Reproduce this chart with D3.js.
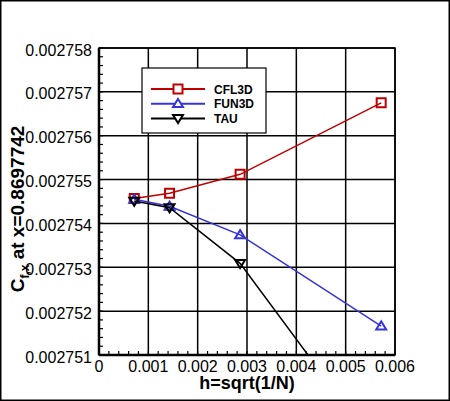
<!DOCTYPE html>
<html>
<head>
<meta charset="utf-8">
<script src="https://cdn.jsdelivr.net/npm/d3@7"></script>
<style>
  body { margin: 0; background: #fff; }
  svg { display: block; font-family: "Liberation Sans", Arial, sans-serif; }
  .tick-label { font-size: 16px; fill: #000; }
</style>
</head>
<body>
<svg width="450" height="401"></svg>
<script>
// grid spacing h and skin friction at x=0.8697742
const hValues = [0.000715, 0.00143, 0.00286, 0.00572];
const cfl3d = [0.00275457, 0.00275469, 0.00275512, 0.00275675];
const fun3d = [0.00275455, 0.00275439, 0.00275374, 0.00275166];
const tau   = [0.00275451, 0.00275436, 0.00275309, 0.00274875];

const xTicks = [0, 0.001, 0.002, 0.003, 0.004, 0.005, 0.006];
const xTickLabels = ['0', '0.001', '0.002', '0.003', '0.004', '0.005', '0.006'];
const yTicks = [0.002751, 0.002752, 0.002753, 0.002754, 0.002755, 0.002756, 0.002757, 0.002758];
const yTickLabels = ['0.002751', '0.002752', '0.002753', '0.002754', '0.002755', '0.002756', '0.002757', '0.002758'];

const seriesNames = ['CFL3D', 'FUN3D', 'TAU'];
const seriesColors = ['#c00000', '#3434d8', '#000000'];
const seriesSymbols = ['square', 'triangle', 'triangleDown'];

const svg = d3.select('svg');
const width = +svg.attr('width');
const height = +svg.attr('height');

const margin = { top: 48, right: 55, bottom: 46, left: 99 };
const innerWidth = width - margin.left - margin.right;
const innerHeight = height - margin.top - margin.bottom;

const xScale = d3.scaleLinear().domain([0, 0.006]).range([0, innerWidth]);
const yScale = d3.scaleLinear().domain([0.002751, 0.002758]).range([innerHeight, 0]);

// outer frame
svg.append('rect')
    .attr('x', 0.75).attr('y', 0.75)
    .attr('width', width - 1.5).attr('height', height - 1.5)
    .attr('fill', 'none').attr('stroke', '#000').attr('stroke-width', 1.5);

const g = svg.append('g')
    .attr('transform', `translate(${margin.left},${margin.top})`);

g.append('clipPath').attr('id', 'plot-clip')
  .append('rect').attr('width', innerWidth).attr('height', innerHeight);

// grid lines
g.append('g')
    .selectAll('line')
    .data(xTicks)
    .enter().append('line')
    .attr('x1', d => xScale(d)).attr('x2', d => xScale(d))
    .attr('y1', 0).attr('y2', innerHeight)
    .attr('stroke', '#000').attr('stroke-width', 1.5);

g.append('g')
    .selectAll('line')
    .data(yTicks)
    .enter().append('line')
    .attr('x1', 0).attr('x2', innerWidth)
    .attr('y1', d => yScale(d)).attr('y2', d => yScale(d))
    .attr('stroke', '#000').attr('stroke-width', 1.5);

g.append('rect')
    .attr('width', innerWidth).attr('height', innerHeight)
    .attr('fill', 'none').attr('stroke', '#000').attr('stroke-width', 1.5);

// minor ticks (5 per major interval), drawn inward
const xMinor = d3.range(0, 31).map(i => i * 0.0002);
const yMinor = d3.range(0, 36).map(i => 0.002751 + i * 2e-7);

g.append('g')
    .selectAll('line')
    .data(xMinor)
    .enter().append('line')
    .attr('x1', d => xScale(d)).attr('x2', d => xScale(d))
    .attr('y1', innerHeight).attr('y2', innerHeight - 4)
    .attr('stroke', '#000').attr('stroke-width', 1.2);

g.append('g')
    .selectAll('line')
    .data(yMinor)
    .enter().append('line')
    .attr('x1', 0).attr('x2', 4)
    .attr('y1', d => yScale(d)).attr('y2', d => yScale(d))
    .attr('stroke', '#000').attr('stroke-width', 1.2);

// tick labels
g.append('g')
    .selectAll('text')
    .data(xTicks)
    .enter().append('text')
    .attr('class', 'tick-label')
    .attr('x', d => xScale(d))
    .attr('y', innerHeight + 17)
    .attr('text-anchor', 'middle')
    .text((d, i) => xTickLabels[i]);

g.append('g')
    .selectAll('text')
    .data(yTicks)
    .enter().append('text')
    .attr('class', 'tick-label')
    .attr('x', -7)
    .attr('y', d => yScale(d) + 7.5)
    .attr('text-anchor', 'end')
    .text((d, i) => yTickLabels[i]);

// thick left and bottom axis lines
g.append('line').attr('x1', 0).attr('x2', 0).attr('y1', 0).attr('y2', innerHeight)
    .attr('stroke', '#000').attr('stroke-width', 2.5);
g.append('line').attr('x1', 0).attr('x2', innerWidth).attr('y1', innerHeight).attr('y2', innerHeight)
    .attr('stroke', '#000').attr('stroke-width', 2.5);

// symbols
const symbolPath = (type, size) => {
    if (type === 'square') {
        const s = size / 2;
        return `M${-s},${-s}H${s}V${s}H${-s}Z`;
    }
    const r = size / 2;
    if (type === 'triangle') {
        return `M0,${-r * 1.05}L${r * 1.1},${r * 0.75}L${-r * 1.1},${r * 0.75}Z`;
    }
    return `M0,${r * 1.05}L${r * 1.1},${-r * 0.75}L${-r * 1.1},${-r * 0.75}Z`;
};

const allSeries = [cfl3d, fun3d, tau];
const line = d3.line()
    .x(d => xScale(d[0]))
    .y(d => yScale(d[1]));

const plot = g.append('g').attr('clip-path', 'url(#plot-clip)');

allSeries.forEach((values, si) => {
    const pts = hValues.map((h, i) => [h, values[i]]);
    plot.append('path')
        .datum(pts)
        .attr('d', line)
        .attr('fill', 'none')
        .attr('stroke', seriesColors[si])
        .attr('stroke-width', 1.5);
    plot.selectAll(null)
        .data(pts)
        .enter().append('path')
        .attr('transform', d => `translate(${xScale(d[0])},${yScale(d[1])})`)
        .attr('d', symbolPath(seriesSymbols[si], 9))
        .attr('fill', 'none')
        .attr('stroke', seriesColors[si])
        .attr('stroke-width', 2);
});

// legend
const legend = svg.append('g').attr('transform', 'translate(142,68)');
legend.append('rect')
    .attr('width', 124).attr('height', 65)
    .attr('fill', '#fff').attr('stroke', '#000').attr('stroke-width', 1.2);

seriesNames.forEach((name, i) => {
    const row = legend.append('g').attr('transform', `translate(0,${21 + i * 14.7})`);
    row.append('line')
        .attr('x1', 9).attr('x2', 63)
        .attr('stroke', seriesColors[i]).attr('stroke-width', 2);
    row.append('path')
        .attr('transform', 'translate(36,0)')
        .attr('d', symbolPath(seriesSymbols[i], 9))
        .attr('fill', '#fff')
        .attr('stroke', seriesColors[i])
        .attr('stroke-width', 2);
    row.append('text')
        .attr('x', 72).attr('y', 4.5)
        .style('font-size', '12px')
        .attr('font-weight', 'bold')
        .attr('fill', '#000')
        .text(name);
});

// axis titles
svg.append('text')
    .attr('x', margin.left + innerWidth / 2)
    .attr('y', 389)
    .attr('text-anchor', 'middle')
    .style('font-size', '18px')
    .attr('font-weight', 'bold')
    .text('h=sqrt(1/N)');

const yTitle = svg.append('text')
    .attr('transform', 'translate(24,209) rotate(-90)')
    .attr('text-anchor', 'middle')
    .style('font-size', '19px')
    .attr('font-weight', 'bold');
yTitle.append('tspan').text('C');
yTitle.append('tspan').style('font-size', '12px').attr('dy', 5).text('f,x');
yTitle.append('tspan').attr('dy', -5).text(' at x=0.8697742');
</script>
</body>
</html>
